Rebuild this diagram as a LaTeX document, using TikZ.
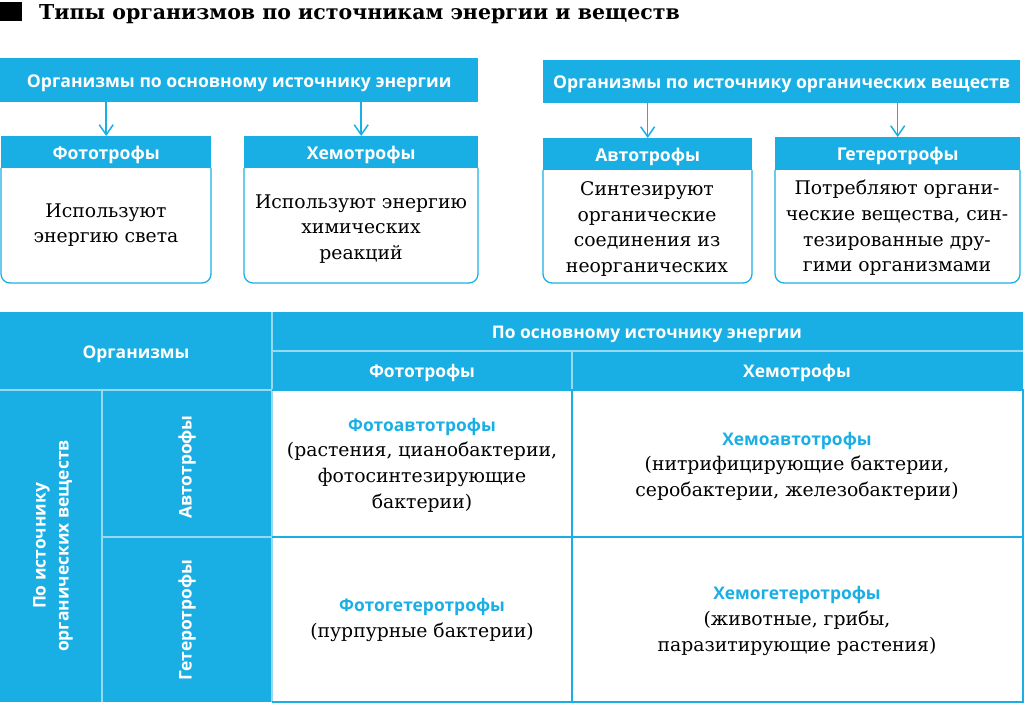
\documentclass[tikz,border=0pt]{standalone}
\usepackage{fontspec}
\setmainfont{DejaVu Serif}
\newfontfamily\hd{Open Sans}
\usetikzlibrary{arrows.meta}
\definecolor{cy}{RGB}{26,175,228}
\definecolor{lt}{RGB}{150,218,242}
\tikzset{
  hbox/.style={fill=cy, text=white, inner sep=0pt, text height=17.5pt, text depth=3pt, font=\hd\bfseries\fontsize{17.6}{20}\selectfont},
  body/.style={draw=cy, line width=1.3pt, rounded corners=9pt},
  btxt/.style={align=center, inner sep=0pt, font=\fontsize{18.8}{25.6}\selectfont},
  thd/.style={text=white, inner sep=0pt, align=center, font=\hd\bfseries\fontsize{17.4}{23}\selectfont},
  arr/.style={draw=cy, line width=1.5pt, -{Straight Barb[length=10pt,width=14pt,line width=1.5pt]}},
  inl/.style={draw=cy, line width=1.3pt},
  ltl/.style={draw=lt, line width=1.2pt}
}
\newcommand{\cyhd}[1]{{\color{cy}\hd\bfseries\fontsize{17.4}{25.6}\selectfont #1}}
\begin{document}
\begin{tikzpicture}[x=1pt,y=-1pt]
\useasboundingbox (0,0) rectangle (1024,703);
% title
\node[fill=black, minimum width=22pt, minimum height=19pt, inner sep=0pt, anchor=north west] (sq) at (0,2) {};
\node[anchor=base west, inner sep=0pt, font=\bfseries\fontsize{20.5}{24}\selectfont] (title) at (39,20) {Типы организмов по источникам энергии и веществ};
% top-left scheme
\node[hbox, minimum width=478pt, minimum height=44pt, anchor=north west] (eh) at (0,58) {Организмы по основному источнику энергии};
\node[hbox, minimum width=210pt, minimum height=32pt, anchor=north west] (ph) at (1,136) {Фототрофы};
\node[hbox, minimum width=234pt, minimum height=32pt, anchor=north west] (ch) at (244,136) {Хемотрофы};
\draw[body] (1,168) -- (1,283) -- (211,283) -- (211,168);
\draw[body] (244,168) -- (244,283) -- (478,283) -- (478,168);
\node[btxt] (pt) at (106,225) {Используют\\энергию света};
\node[btxt] (ct) at (361,229) {Используют энергию\\химических\\реакций};
\draw[arr] (eh.south -| ph.north) -- (ph.north);
\draw[arr] (eh.south -| ch.north) -- (ch.north);
% top-right scheme
\node[hbox, minimum width=477pt, minimum height=43pt, anchor=north west] (oh) at (543,60) {Организмы по источнику органических веществ};
\node[hbox, minimum width=209pt, minimum height=32pt, anchor=north west] (ah) at (543,138) {Автотрофы};
\node[hbox, minimum width=245pt, minimum height=33pt, anchor=north west] (gh) at (775,137) {Гетеротрофы};
\draw[body] (543,170) -- (543,283) -- (752,283) -- (752,170);
\draw[body] (775,170) -- (775,283) -- (1020,283) -- (1020,170);
\node[btxt] (at) at (647,229) {Синтезируют\\органические\\соединения из\\неорганических};
\node[btxt] (gt) at (897,228) {Потребляют органи-\\ческие вещества, син-\\тезированные дру-\\гими организмами};
\draw[arr] (oh.south -| ah.north) -- (ah.north);
\draw[arr] (oh.south -| gh.north) -- (gh.north);
% table
\fill[cy] (0,312) rectangle (1023,390);
\fill[cy] (0,390) rectangle (272,702);
\draw[ltl] (272,312) -- (272,702);
\draw[ltl] (272,351) -- (1023,351);
\draw[ltl] (572,351) -- (572,390);
\draw[ltl] (0,390) -- (272,390);
\draw[ltl] (102,390) -- (102,702);
\draw[ltl] (102,537) -- (272,537);
\draw[inl] (272,390) -- (1023,390) -- (1023,702) -- (272,702);
\draw[inl] (572,390) -- (572,702);
\draw[inl] (272,537) -- (1023,537);
\node[thd, yshift=-2pt] (org) at (136,352) {Организмы};
\node[thd, yshift=-2pt] (ens) at (647,332) {По основному источнику энергии};
\node[thd, yshift=-2pt] (tp) at (422,371) {Фототрофы};
\node[thd, yshift=-2pt] (tc) at (797,371) {Хемотрофы};
\node[thd, rotate=90] (src) at (53,546) {По источнику\\органических веществ};
\node[thd, rotate=90] (ra) at (187,467) {Автотрофы};
\node[thd, rotate=90] (rg) at (187,620) {Гетеротрофы};
\node[btxt] (pa) at (422,465) {\cyhd{Фотоавтотрофы}\\(растения, цианобактерии,\\фотосинтезирующие\\бактерии)};
\node[btxt] (ca) at (797,466) {\cyhd{Хемоавтотрофы}\\(нитрифицирующие бактерии,\\серобактерии, железобактерии)};
\node[btxt] (pg) at (422,620) {\cyhd{Фотогетеротрофы}\\(пурпурные бактерии)};
\node[btxt] (cg) at (797,621) {\cyhd{Хемогетеротрофы}\\(животные, грибы,\\паразитирующие растения)};
\end{tikzpicture}
\end{document}
